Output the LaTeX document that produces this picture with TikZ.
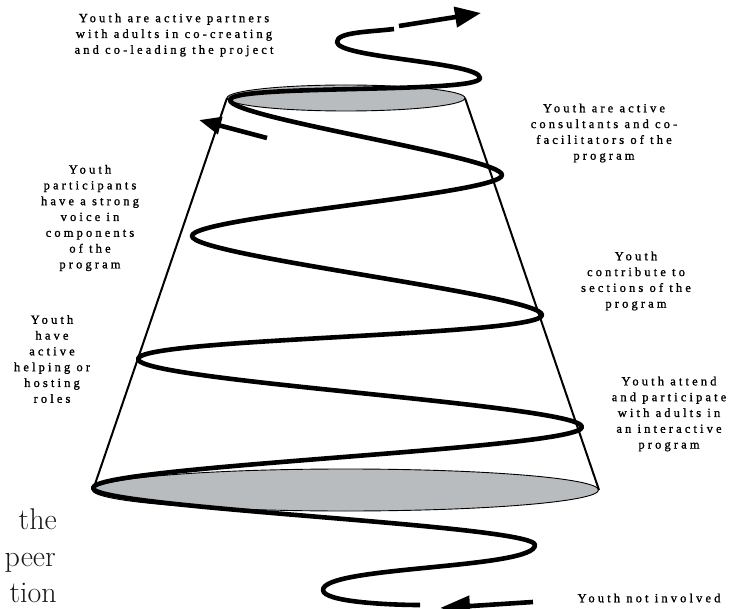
\documentclass[tikz,border=0pt]{standalone}
\usepackage{fontspec}
\usetikzlibrary{arrows.meta}
\newfontfamily\lblfamily{Liberation Serif}[LetterSpace=25,FakeBold=1.2]
\newcommand\labfont{\lblfamily\fontsize{12.5}{15.8}\selectfont}
\newcommand\bigtxtfont{\fontsize{30}{36}\selectfont}
\definecolor{conegray}{RGB}{184,188,191}
\tikzset{
  lab/.style={align=center, font=\labfont, inner sep=0pt},
  bigword/.style={font=\bigtxtfont, inner sep=0pt, anchor=base east, text=black!90},
  rim/.style={draw=black, line width=0.9pt, fill=conegray},
  coneside/.style={draw=black, line width=2pt},
  spiral/.style={draw=black, line width=4.6pt, line join=round},
  arrowline/.style={draw=black, line width=4.6pt},
}
\begin{document}
\begin{tikzpicture}[x=1pt,y=-1pt]
\useasboundingbox (0,0) rectangle (733,609);
\clip (0,0) rectangle (733,609);
% cone
\coordinate (TL) at (227,98);
\coordinate (TR) at (465,98);
\coordinate (BL) at (93,490);
\coordinate (BR) at (599,490);
\draw[rim] (345.5,490) ellipse [x radius=253pt, y radius=21pt];
\draw[rim] (346,98) ellipse [x radius=119pt, y radius=13pt];
\draw[coneside] (TL) -- (BL);
\draw[coneside] (TR) -- (BR);
% spiral turning points
\coordinate (S)  at (394,29);
\coordinate (L0) at (337,42);
\coordinate (R0) at (480,78);
\coordinate (L1) at (230,100);
\coordinate (R1) at (502,175);
\coordinate (L2) at (192,236);
\coordinate (R2) at (542,315);
\coordinate (L3) at (138,359);
\coordinate (R3) at (582,427);
\coordinate (L4) at (93,488);
\coordinate (R4) at (535,545);
\coordinate (L5) at (323,590);
\coordinate (E)  at (420,605);
\draw[spiral] (S) .. controls +(-25,3) and +(0,-10) .. (L0)
  .. controls +(0,16) and +(0,-16) .. (R0)
  .. controls +(0,16) and +(0,-16) .. (L1)
  .. controls +(0,18) and +(0,-18) .. (R1)
  .. controls +(0,19) and +(0,-19) .. (L2)
  .. controls +(0,20) and +(0,-20) .. (R2)
  .. controls +(0,21) and +(0,-21) .. (L3)
  .. controls +(0,22) and +(0,-22) .. (R3)
  .. controls +(0,22) and +(0,-22) .. (L4)
  .. controls +(0,20) and +(0,-20) .. (R4)
  .. controls +(0,24) and +(0,-24) .. (L5)
  .. controls +(0,12) and +(-30,0) .. (E);
% arrows
\coordinate (A1s) at (399,26);
\coordinate (A1t) at (481,13);
\draw[arrowline, -{Triangle[length=26pt,width=20pt]}] (A1s) -- (A1t);
\coordinate (A2s) at (267,138);
\coordinate (A2t) at (199,120);
\draw[arrowline, -{Triangle[length=22pt,width=17pt]}] (A2s) -- (A2t);
\coordinate (A3s) at (533,602);
\coordinate (A3t) at (440,608);
\draw[arrowline, -{Triangle[length=30pt,width=20pt]}] (A3s) -- (A3t);
% labels
\node[lab] (t1) at (174,35) {Youth are active partners\\with adults in co-creating\\and co-leading the project};
\node[lab] (t2) at (604,133) {Youth are active\\consultants and co-\\facilitators of the\\program};
\node[lab] (t3) at (90,218) {Youth\\participants\\have a strong\\voice in\\components\\of the\\program};
\node[lab] (t4) at (636,281) {Youth\\contribute to\\sections of the\\program};
\node[lab] (t5) at (52,359) {Youth\\have\\active\\helping or\\hosting\\roles};
\node[lab] (t6) at (669,414) {Youth attend\\and participate\\with adults in\\an interactive\\program};
\node[lab] (t7) at (649,598) {Youth not involved};
% body text fragments
\node[bigword] (w1) at (57,529) {the};
\node[bigword] (w2) at (56,566) {peer};
\node[bigword] (w3) at (57,602) {tion};
\end{tikzpicture}
\end{document}
